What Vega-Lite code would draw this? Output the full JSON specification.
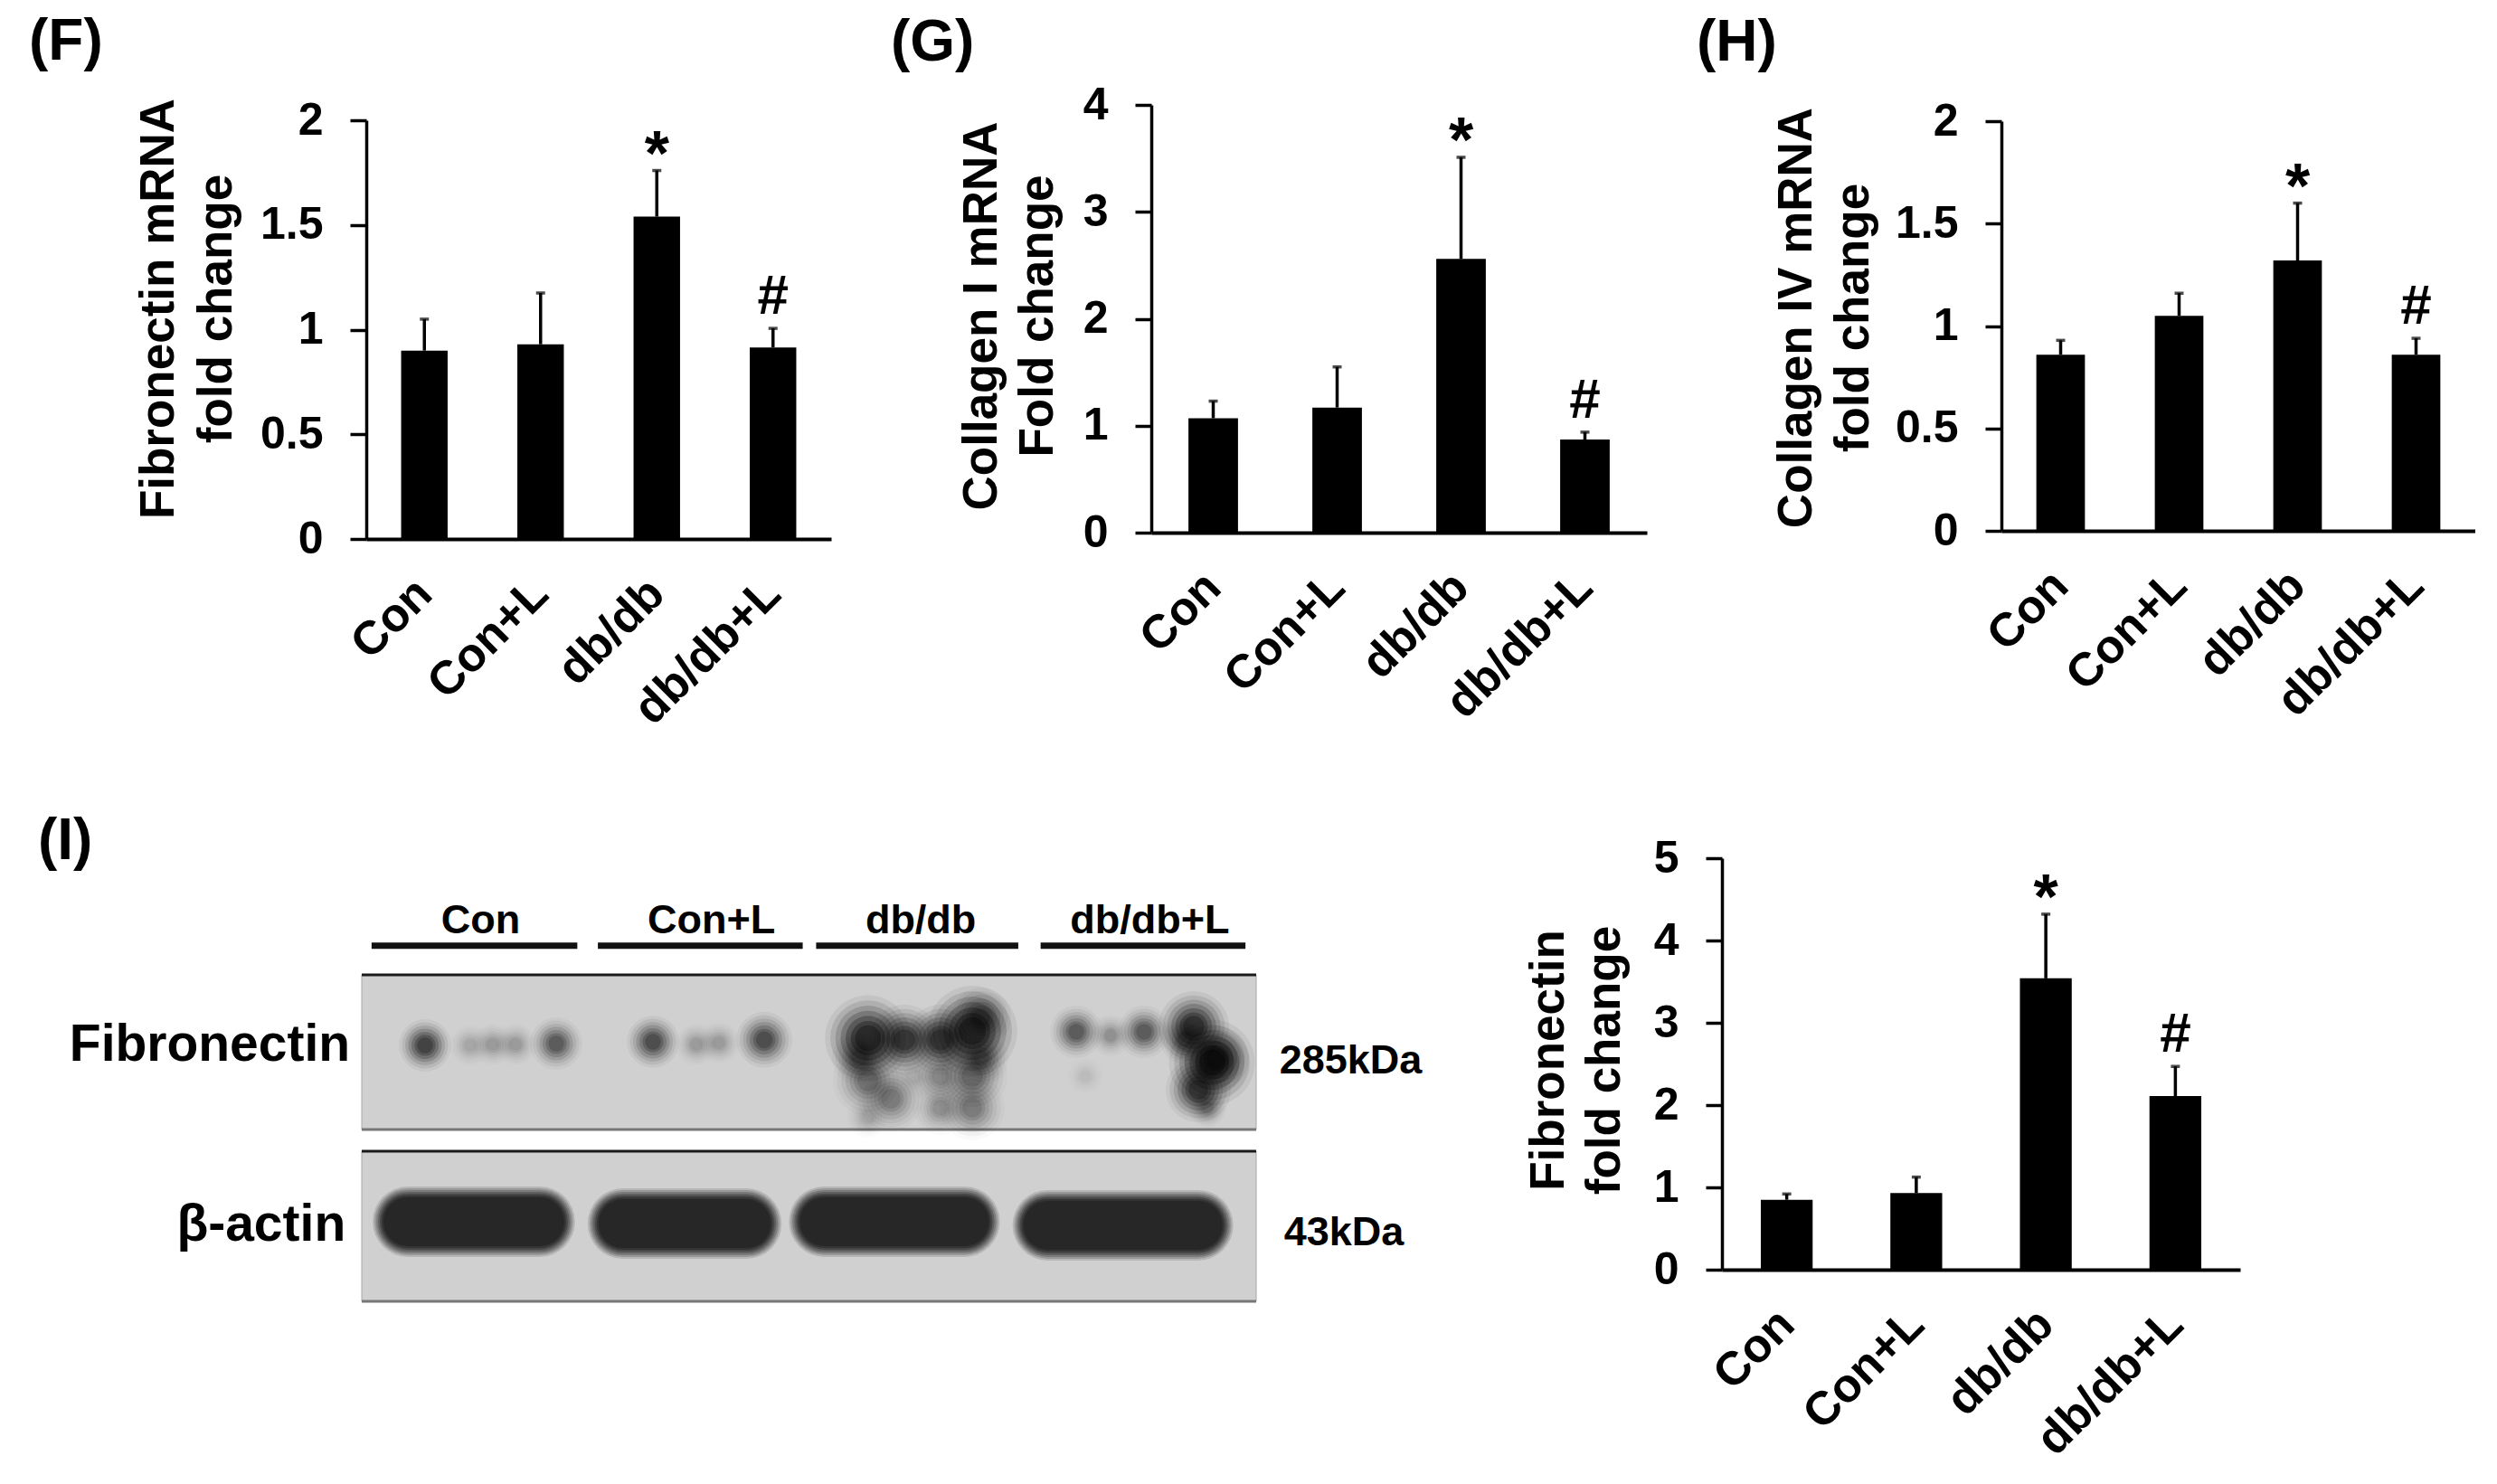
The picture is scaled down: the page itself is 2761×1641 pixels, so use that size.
{
"$schema":"https://vega.github.io/schema/vega-lite/v6.json",
"background":"white",
"padding":{"left":32,"top":15,"right":0,"bottom":0},
"config":{"view":{"stroke":null},"font":"Liberation Sans",
"axis":{"labelFont":"Liberation Sans","titleFont":"Liberation Sans","labelFontWeight":"bold","titleFontWeight":"bold","labelColor":"black","titleColor":"black","domainColor":"black","tickColor":"black","grid":false,"labelOverlap":false,"labelFlush":false,"labelBound":false,"labelLimit":1000}},
"datasets":{
"bars":[
{"panel":"F","group":"Con","fold":0.9,"hi":1.05},{"panel":"F","group":"Con+L","fold":0.93,"hi":1.175},{"panel":"F","group":"db/db","fold":1.54,"hi":1.76,"sig":"*"},{"panel":"F","group":"db/db+L","fold":0.915,"hi":1.006,"sig":"#"},
{"panel":"G","group":"Con","fold":1.07,"hi":1.23},{"panel":"G","group":"Con+L","fold":1.17,"hi":1.55},{"panel":"G","group":"db/db","fold":2.56,"hi":3.51,"sig":"*"},{"panel":"G","group":"db/db+L","fold":0.87,"hi":0.94,"sig":"#"},
{"panel":"H","group":"Con","fold":0.86,"hi":0.93},{"panel":"H","group":"Con+L","fold":1.05,"hi":1.16},{"panel":"H","group":"db/db","fold":1.32,"hi":1.6,"sig":"*"},{"panel":"H","group":"db/db+L","fold":0.86,"hi":0.94,"sig":"#"},
{"panel":"I","group":"Con","fold":0.85,"hi":0.92},{"panel":"I","group":"Con+L","fold":0.93,"hi":1.125},{"panel":"I","group":"db/db","fold":3.54,"hi":4.32,"sig":"*"},{"panel":"I","group":"db/db+L","fold":2.11,"hi":2.47,"sig":"#"}
],
"gelBoxes":[{"x":0,"x2":100,"y":0,"y2":47.4},{"x":0,"x2":100,"y":54,"y2":100}],
"gelEdges":[{"x":0,"x2":100,"y":0,"edge":"top"},{"x":0,"x2":100,"y":54,"edge":"top"},{"x":0,"x2":100,"y":47.4,"edge":"bottom"},{"x":0,"x2":100,"y":100,"edge":"bottom"}],
"laneLines":[{"x":1.1,"x2":24.1,"y":-8.9},{"x":26.4,"x2":49.3,"y":-8.9},{"x":50.8,"x2":73.4,"y":-8.9},{"x":75.9,"x2":98.8,"y":-8.9}],
"spots":[
{"x":7.08,"y":21.6,"spread":58,"dens":0.75},{"x":21.74,"y":21.05,"spread":58,"dens":0.55},{"x":12.13,"y":21.6,"spread":46,"dens":0.15},{"x":14.66,"y":21.3,"spread":46,"dens":0.2},{"x":17.19,"y":21.3,"spread":46,"dens":0.2},
{"x":32.56,"y":20.5,"spread":58,"dens":0.65},{"x":45.0,"y":19.9,"spread":62,"dens":0.65},{"x":37.41,"y":21.3,"spread":46,"dens":0.2},{"x":39.94,"y":20.8,"spread":46,"dens":0.2},
{"x":56.6,"y":19.4,"spread":95,"dens":1},{"x":60.67,"y":19.9,"spread":78,"dens":0.8},{"x":64.71,"y":19.9,"spread":78,"dens":0.8},{"x":68.25,"y":17.2,"spread":100,"dens":1},{"x":69.26,"y":13.0,"spread":66,"dens":0.5},
{"x":56.6,"y":32.4,"spread":78,"dens":0.4},{"x":59.15,"y":37.95,"spread":72,"dens":0.35},{"x":61.68,"y":31.0,"spread":54,"dens":0.1},{"x":64.71,"y":31.0,"spread":66,"dens":0.28},{"x":68.25,"y":31.0,"spread":78,"dens":0.42},{"x":68.25,"y":40.7,"spread":72,"dens":0.35},{"x":64.71,"y":40.7,"spread":60,"dens":0.25},{"x":56.6,"y":43.5,"spread":48,"dens":0.15},{"x":55.6,"y":25.5,"spread":60,"dens":0.45},{"x":69.26,"y":25.5,"spread":60,"dens":0.45},
{"x":79.88,"y":17.45,"spread":58,"dens":0.55},{"x":87.46,"y":17.45,"spread":58,"dens":0.55},{"x":83.72,"y":18.56,"spread":46,"dens":0.25},{"x":93.02,"y":15.8,"spread":78,"dens":0.9},{"x":95.05,"y":26.87,"spread":95,"dens":1},{"x":95.55,"y":25.5,"spread":72,"dens":0.8},{"x":93.53,"y":35.18,"spread":72,"dens":0.8},{"x":94.54,"y":40.72,"spread":42,"dens":0.3},{"x":80.9,"y":31.0,"spread":42,"dens":0.06},{"x":92.0,"y":19.9,"spread":54,"dens":0.5}
],
"actin":[
{"band":"Con","x":5.16,"y":75.6},{"band":"Con","x":19.9,"y":75.6},
{"band":"Con+L","x":29.2,"y":76.2},{"band":"Con+L","x":43.0,"y":76.2},
{"band":"db/db","x":51.7,"y":75.6},{"band":"db/db","x":67.4,"y":75.6},
{"band":"db/db+L","x":76.7,"y":76.7},{"band":"db/db+L","x":93.5,"y":76.7}
],
"gelText":[
{"kind":"protein","label":"Fibronectin","x":-1.3,"y":21.6},{"kind":"protein","label":"β-actin","x":-1.8,"y":76.7},
{"kind":"mass","label":"285kDa","x":102.6,"y":26.3},{"kind":"mass","label":"43kDa","x":103.1,"y":78.9},
{"kind":"lane","label":"Con","x":13.3,"y":-16.6},{"kind":"lane","label":"Con+L","x":39.1,"y":-16.6},{"kind":"lane","label":"db/db","x":62.5,"y":-16.6},{"kind":"lane","label":"db/db+L","x":88.1,"y":-16.6}
]
},
"bounds":"flush","spacing":833,
"vconcat":[
{"bounds":"flush","spacing":0,"hconcat":[
{"width":868,"height":480,
"title":{"text":"(F)","anchor":"start","frame":"group","fontSize":64,"fontWeight":"bold","font":"Liberation Sans","baseline":"alphabetic","offset":0,"dx":-373,"dy":22},
"data":{"name":"bars"},"transform":[{"filter":"datum.panel=='F'"}],
"encoding":{"x":{"field":"group","type":"nominal","sort":null,"title":null,"scale":{"type":"band","domain":["Con","Con+L","db/db","db/db+L"],"range":[0,514],"paddingInner":0,"paddingOuter":0},"axis":{"orient":"bottom","ticks":false,"domainWidth":4,"labelAngle":-45,"labelAlign":"right","labelBaseline":"middle","labelFontSize":52,"labelPadding":52}}},
"layer":[
{"mark":{"type":"bar","color":"black","width":{"band":0.4}},"encoding":{"y":{"field":"fold","type":"quantitative","scale":{"domain":[0,2],"range":[480,17],"nice":false},"axis":{"values":[0,0.5,1,1.5,2],"format":"~g","tickSize":18,"tickWidth":3.5,"domainWidth":3.5,"labelFontSize":50,"labelPadding":30,"title":["Fibronectin mRNA","fold change"],"titleFontSize":53,"titleAngle":-90,"titleAlign":"center","titleBaseline":"alphabetic","titleX":-214,"titleY":225,"titleLineHeight":64}}}},
{"mark":{"type":"rule","color":"black","strokeWidth":3.5},"encoding":{"y":{"field":"fold","type":"quantitative"},"y2":{"field":"hi"}}},
{"mark":{"type":"tick","color":"black","size":10,"thickness":3.5},"encoding":{"y":{"field":"hi","type":"quantitative"}}},
{"transform":[{"filter":"datum.sig=='*'"}],"mark":{"type":"text","fontSize":70,"fontWeight":"bold","baseline":"alphabetic","dy":5},"encoding":{"y":{"field":"hi","type":"quantitative"},"text":{"field":"sig"}}},
{"transform":[{"filter":"datum.sig=='#'"}],"mark":{"type":"text","fontSize":62,"fontWeight":"bold","baseline":"alphabetic","dy":-16},"encoding":{"y":{"field":"hi","type":"quantitative"},"text":{"field":"sig"}}}
]},
{"width":940,"height":480,
"title":{"text":"(G)","anchor":"start","frame":"group","fontSize":64,"fontWeight":"bold","font":"Liberation Sans","baseline":"alphabetic","offset":0,"dx":-288,"dy":40},
"data":{"name":"bars"},"transform":[{"filter":"datum.panel=='G'"}],
"encoding":{"x":{"field":"group","type":"nominal","sort":null,"title":null,"scale":{"type":"band","domain":["Con","Con+L","db/db","db/db+L"],"range":[0,548],"paddingInner":0,"paddingOuter":0},"axis":{"orient":"bottom","offset":-7,"ticks":false,"domainWidth":4,"labelAngle":-45,"labelAlign":"right","labelBaseline":"middle","labelFontSize":52,"labelPadding":52}}},
"layer":[
{"mark":{"type":"bar","color":"black","width":{"band":0.4}},"encoding":{"y":{"field":"fold","type":"quantitative","scale":{"domain":[0,4],"range":[473,0],"nice":false},"axis":{"values":[0,1,2,3,4],"format":"~g","tickSize":18,"tickWidth":3.5,"domainWidth":3.5,"labelFontSize":50,"labelPadding":30,"title":["Collagen I mRNA","Fold change"],"titleFontSize":53,"titleAngle":-90,"titleAlign":"center","titleBaseline":"alphabetic","titleX":-172,"titleY":233,"titleLineHeight":62}}}},
{"mark":{"type":"rule","color":"black","strokeWidth":3.5},"encoding":{"y":{"field":"fold","type":"quantitative"},"y2":{"field":"hi"}}},
{"mark":{"type":"tick","color":"black","size":10,"thickness":3.5},"encoding":{"y":{"field":"hi","type":"quantitative"}}},
{"transform":[{"filter":"datum.sig=='*'"}],"mark":{"type":"text","fontSize":70,"fontWeight":"bold","baseline":"alphabetic","dy":5},"encoding":{"y":{"field":"hi","type":"quantitative"},"text":{"field":"sig"}}},
{"transform":[{"filter":"datum.sig=='#'"}],"mark":{"type":"text","fontSize":62,"fontWeight":"bold","baseline":"alphabetic","dy":-16},"encoding":{"y":{"field":"hi","type":"quantitative"},"text":{"field":"sig"}}}
]},
{"width":524,"height":480,
"title":{"text":"(H)","anchor":"start","frame":"group","fontSize":64,"fontWeight":"bold","font":"Liberation Sans","baseline":"alphabetic","offset":0,"dx":-337,"dy":22},
"data":{"name":"bars"},"transform":[{"filter":"datum.panel=='H'"}],
"encoding":{"x":{"field":"group","type":"nominal","sort":null,"title":null,"scale":{"type":"band","domain":["Con","Con+L","db/db","db/db+L"],"range":[0,524],"paddingInner":0,"paddingOuter":0},"axis":{"orient":"bottom","offset":-9,"ticks":false,"domainWidth":4,"labelAngle":-45,"labelAlign":"right","labelBaseline":"middle","labelFontSize":52,"labelPadding":52}}},
"layer":[
{"mark":{"type":"bar","color":"black","width":{"band":0.41}},"encoding":{"y":{"field":"fold","type":"quantitative","scale":{"domain":[0,2],"range":[471,18],"nice":false},"axis":{"values":[0,0.5,1,1.5,2],"format":"~g","tickSize":18,"tickWidth":3.5,"domainWidth":3.5,"labelFontSize":50,"labelPadding":30,"title":["Collagen IV mRNA","fold change"],"titleFontSize":53,"titleAngle":-90,"titleAlign":"center","titleBaseline":"alphabetic","titleX":-211,"titleY":235,"titleLineHeight":63}}}},
{"mark":{"type":"rule","color":"black","strokeWidth":3.5},"encoding":{"y":{"field":"fold","type":"quantitative"},"y2":{"field":"hi"}}},
{"mark":{"type":"tick","color":"black","size":10,"thickness":3.5},"encoding":{"y":{"field":"hi","type":"quantitative"}}},
{"transform":[{"filter":"datum.sig=='*'"}],"mark":{"type":"text","fontSize":70,"fontWeight":"bold","baseline":"alphabetic","dy":5},"encoding":{"y":{"field":"hi","type":"quantitative"},"text":{"field":"sig"}}},
{"transform":[{"filter":"datum.sig=='#'"}],"mark":{"type":"text","fontSize":62,"fontWeight":"bold","baseline":"alphabetic","dy":-16},"encoding":{"y":{"field":"hi","type":"quantitative"},"text":{"field":"sig"}}}
]}
]},
{"bounds":"flush","spacing":0,"hconcat":[
{"width":1499,"height":490,
"title":{"text":"(I)","anchor":"start","frame":"group","fontSize":64,"fontWeight":"bold","font":"Liberation Sans","baseline":"alphabetic","offset":0,"dx":-363,"dy":65},
"resolve":{"scale":{"size":"independent","opacity":"independent"}},
"layer":[
{"data":{"name":"gelBoxes"},"mark":{"type":"rect","fill":"#d0d0d0","stroke":"#a8a8a8","strokeWidth":1},"encoding":{"x":{"field":"x","type":"quantitative","axis":null,"scale":{"domain":[0,100],"range":[-5,984],"nice":false,"zero":false}},"x2":{"field":"x2"},"y":{"field":"y","type":"quantitative","axis":null,"scale":{"domain":[0,100],"range":[129,490],"nice":false,"zero":false}},"y2":{"field":"y2"}}},
{"data":{"name":"gelEdges"},"mark":{"type":"rule","strokeWidth":3},"encoding":{"x":{"field":"x","type":"quantitative","axis":null},"x2":{"field":"x2"},"y":{"field":"y","type":"quantitative","axis":null},"color":{"field":"edge","type":"nominal","legend":null,"scale":{"domain":["top","bottom"],"range":["#1a1a1a","#777777"]}}}},
{"data":{"name":"laneLines"},"mark":{"type":"rule","strokeWidth":7,"color":"#111111"},"encoding":{"x":{"field":"x","type":"quantitative","axis":null},"x2":{"field":"x2"},"y":{"field":"y","type":"quantitative","axis":null}}},
{"data":{"name":"spots"},"mark":{"type":"point","filled":true,"shape":"circle","color":"black"},"encoding":{"x":{"field":"x","type":"quantitative","axis":null},"y":{"field":"y","type":"quantitative","axis":null},"opacity":{"field":"dens","type":"quantitative","legend":null,"scale":{"domain":[0,1],"range":[0,0.06]}},"size":{"field":"spread","type":"quantitative","legend":null,"scale":{"type":"pow","exponent":2,"domain":[0,100],"range":[0,10000]}}}},
{"data":{"name":"spots"},"mark":{"type":"point","filled":true,"shape":"circle","color":"black"},"encoding":{"x":{"field":"x","type":"quantitative","axis":null},"y":{"field":"y","type":"quantitative","axis":null},"opacity":{"field":"dens","type":"quantitative","legend":null,"scale":{"domain":[0,1],"range":[0,0.1]}},"size":{"field":"spread","type":"quantitative","legend":null,"scale":{"type":"pow","exponent":2,"domain":[0,100],"range":[0,7744]}}}},
{"data":{"name":"spots"},"mark":{"type":"point","filled":true,"shape":"circle","color":"black"},"encoding":{"x":{"field":"x","type":"quantitative","axis":null},"y":{"field":"y","type":"quantitative","axis":null},"opacity":{"field":"dens","type":"quantitative","legend":null,"scale":{"domain":[0,1],"range":[0,0.14]}},"size":{"field":"spread","type":"quantitative","legend":null,"scale":{"type":"pow","exponent":2,"domain":[0,100],"range":[0,5776]}}}},
{"data":{"name":"spots"},"mark":{"type":"point","filled":true,"shape":"circle","color":"black"},"encoding":{"x":{"field":"x","type":"quantitative","axis":null},"y":{"field":"y","type":"quantitative","axis":null},"opacity":{"field":"dens","type":"quantitative","legend":null,"scale":{"domain":[0,1],"range":[0,0.2]}},"size":{"field":"spread","type":"quantitative","legend":null,"scale":{"type":"pow","exponent":2,"domain":[0,100],"range":[0,4096]}}}},
{"data":{"name":"spots"},"mark":{"type":"point","filled":true,"shape":"circle","color":"black"},"encoding":{"x":{"field":"x","type":"quantitative","axis":null},"y":{"field":"y","type":"quantitative","axis":null},"opacity":{"field":"dens","type":"quantitative","legend":null,"scale":{"domain":[0,1],"range":[0,0.25]}},"size":{"field":"spread","type":"quantitative","legend":null,"scale":{"type":"pow","exponent":2,"domain":[0,100],"range":[0,2704]}}}},
{"data":{"name":"spots"},"mark":{"type":"point","filled":true,"shape":"circle","color":"black"},"encoding":{"x":{"field":"x","type":"quantitative","axis":null},"y":{"field":"y","type":"quantitative","axis":null},"opacity":{"field":"dens","type":"quantitative","legend":null,"scale":{"domain":[0,1],"range":[0,0.3]}},"size":{"field":"spread","type":"quantitative","legend":null,"scale":{"type":"pow","exponent":2,"domain":[0,100],"range":[0,1600]}}}},
{"data":{"name":"spots"},"mark":{"type":"point","filled":true,"shape":"circle","color":"black"},"encoding":{"x":{"field":"x","type":"quantitative","axis":null},"y":{"field":"y","type":"quantitative","axis":null},"opacity":{"field":"dens","type":"quantitative","legend":null,"scale":{"domain":[0,1],"range":[0,0.3]}},"size":{"field":"spread","type":"quantitative","legend":null,"scale":{"type":"pow","exponent":2,"domain":[0,100],"range":[0,900]}}}},
{"data":{"name":"actin"},"mark":{"type":"line","strokeCap":"round","strokeWidth":78,"color":"#222222","opacity":0.15},"encoding":{"x":{"field":"x","type":"quantitative","axis":null},"y":{"field":"y","type":"quantitative","axis":null},"detail":{"field":"band"}}},
{"data":{"name":"actin"},"mark":{"type":"line","strokeCap":"round","strokeWidth":74,"color":"#222222","opacity":0.2},"encoding":{"x":{"field":"x","type":"quantitative","axis":null},"y":{"field":"y","type":"quantitative","axis":null},"detail":{"field":"band"}}},
{"data":{"name":"actin"},"mark":{"type":"line","strokeCap":"round","strokeWidth":70,"color":"#222222","opacity":0.25},"encoding":{"x":{"field":"x","type":"quantitative","axis":null},"y":{"field":"y","type":"quantitative","axis":null},"detail":{"field":"band"}}},
{"data":{"name":"actin"},"mark":{"type":"line","strokeCap":"round","strokeWidth":66,"color":"#222222","opacity":0.3},"encoding":{"x":{"field":"x","type":"quantitative","axis":null},"y":{"field":"y","type":"quantitative","axis":null},"detail":{"field":"band"}}},
{"data":{"name":"actin"},"mark":{"type":"line","strokeCap":"round","strokeWidth":62,"color":"#222222","opacity":0.4},"encoding":{"x":{"field":"x","type":"quantitative","axis":null},"y":{"field":"y","type":"quantitative","axis":null},"detail":{"field":"band"}}},
{"data":{"name":"actin"},"mark":{"type":"line","strokeCap":"round","strokeWidth":58,"color":"#222222","opacity":0.5},"encoding":{"x":{"field":"x","type":"quantitative","axis":null},"y":{"field":"y","type":"quantitative","axis":null},"detail":{"field":"band"}}},
{"data":{"name":"actin"},"mark":{"type":"line","strokeCap":"round","strokeWidth":54,"color":"#222222","opacity":0.7},"encoding":{"x":{"field":"x","type":"quantitative","axis":null},"y":{"field":"y","type":"quantitative","axis":null},"detail":{"field":"band"}}},
{"data":{"name":"gelText"},"transform":[{"filter":"datum.kind=='protein'"}],"mark":{"type":"text","align":"right","baseline":"middle","fontSize":57,"fontWeight":"bold"},"encoding":{"x":{"field":"x","type":"quantitative","axis":null},"y":{"field":"y","type":"quantitative","axis":null},"text":{"field":"label"}}},
{"data":{"name":"gelText"},"transform":[{"filter":"datum.kind=='mass'"}],"mark":{"type":"text","align":"left","baseline":"middle","fontSize":45,"fontWeight":"bold"},"encoding":{"x":{"field":"x","type":"quantitative","axis":null},"y":{"field":"y","type":"quantitative","axis":null},"text":{"field":"label"}}},
{"data":{"name":"gelText"},"transform":[{"filter":"datum.kind=='lane'"}],"mark":{"type":"text","align":"center","baseline":"middle","fontSize":45,"fontWeight":"bold"},"encoding":{"x":{"field":"x","type":"quantitative","axis":null},"y":{"field":"y","type":"quantitative","axis":null},"text":{"field":"label"}}}
]},
{"width":573,"height":490,
"data":{"name":"bars"},"transform":[{"filter":"datum.panel=='I'"}],
"encoding":{"x":{"field":"group","type":"nominal","sort":null,"title":null,"scale":{"type":"band","domain":["Con","Con+L","db/db","db/db+L"],"range":[0,573],"paddingInner":0,"paddingOuter":0},"axis":{"orient":"bottom","offset":-35,"ticks":false,"domainWidth":4,"labelAngle":-45,"labelAlign":"right","labelBaseline":"middle","labelFontSize":52,"labelPadding":52}}},
"layer":[
{"mark":{"type":"bar","color":"black","width":{"band":0.4}},"encoding":{"y":{"field":"fold","type":"quantitative","scale":{"domain":[0,5],"range":[455,0],"nice":false},"axis":{"values":[0,1,2,3,4,5],"format":"~g","tickSize":18,"tickWidth":3.5,"domainWidth":3.5,"labelFontSize":50,"labelPadding":30,"title":["Fibronectin","fold change"],"titleFontSize":53,"titleAngle":-90,"titleAlign":"center","titleBaseline":"alphabetic","titleX":-176,"titleY":223,"titleLineHeight":62}}}},
{"mark":{"type":"rule","color":"black","strokeWidth":3.5},"encoding":{"y":{"field":"fold","type":"quantitative"},"y2":{"field":"hi"}}},
{"mark":{"type":"tick","color":"black","size":10,"thickness":3.5},"encoding":{"y":{"field":"hi","type":"quantitative"}}},
{"transform":[{"filter":"datum.sig=='*'"}],"mark":{"type":"text","fontSize":70,"fontWeight":"bold","baseline":"alphabetic","dy":5},"encoding":{"y":{"field":"hi","type":"quantitative"},"text":{"field":"sig"}}},
{"transform":[{"filter":"datum.sig=='#'"}],"mark":{"type":"text","fontSize":62,"fontWeight":"bold","baseline":"alphabetic","dy":-16},"encoding":{"y":{"field":"hi","type":"quantitative"},"text":{"field":"sig"}}}
]}
]}
]
}
